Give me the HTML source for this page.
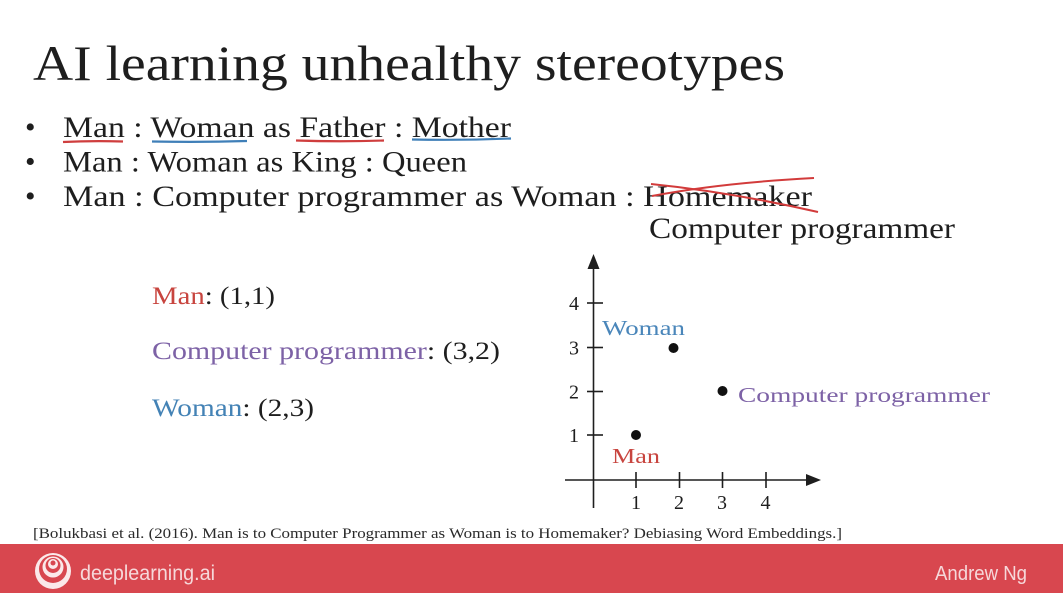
<!DOCTYPE html>
<html>
<head>
<meta charset="utf-8">
<style>
  html, body { margin: 0; padding: 0; background: #ffffff; }
  svg { display: block; }
  .serif { font-family: "Liberation Serif", "DejaVu Serif", serif; }
  .sans { font-family: "Liberation Sans", "DejaVu Sans", sans-serif; }
</style>
</head>
<body>
<svg width="1063" height="593" viewBox="0 0 1063 593" xmlns="http://www.w3.org/2000/svg">
  <rect x="0" y="0" width="1063" height="593" fill="#ffffff"/>

  <!-- Title -->
  <text class="serif" x="33" y="80" font-size="50" fill="#1e1e1e" textLength="752" lengthAdjust="spacingAndGlyphs">AI learning unhealthy stereotypes</text>

  <!-- Bullets -->
  <g class="serif" fill="#1e1e1e" font-size="30">
    <text x="25" y="137">•</text>
    <text x="25" y="171.5">•</text>
    <text x="25" y="206">•</text>
    <text x="63" y="137" textLength="448" lengthAdjust="spacingAndGlyphs">Man : Woman as Father : Mother</text>
    <text x="63" y="171.5" textLength="404" lengthAdjust="spacingAndGlyphs">Man : Woman as King : Queen</text>
    <text x="63" y="206" textLength="749" lengthAdjust="spacingAndGlyphs">Man : Computer programmer as Woman : Homemaker</text>
    <text x="649" y="238" textLength="306" lengthAdjust="spacingAndGlyphs">Computer programmer</text>
  </g>

  <!-- underlines -->
  <path d="M63 142 Q93 140.5 123 141.5" stroke="#cf3e3e" stroke-width="2.2" fill="none"/>
  <path d="M152 141.5 Q200 142.5 247 141" stroke="#3f7fb8" stroke-width="2.2" fill="none"/>
  <path d="M296 140.5 Q340 142 384 140.5" stroke="#cf3e3e" stroke-width="2.2" fill="none"/>
  <path d="M412 139.5 Q460 140.5 511 138.5" stroke="#3f7fb8" stroke-width="2.2" fill="none"/>

  <!-- strike-through on Homemaker -->
  <path d="M651 184 Q730 192 818 212" stroke="#d23b3b" stroke-width="2" fill="none"/>
  <path d="M652 196 Q720 183 814 178" stroke="#d23b3b" stroke-width="2" fill="none"/>

  <!-- Left column -->
  <g class="serif" font-size="25">
    <text x="152" y="304" textLength="123" lengthAdjust="spacingAndGlyphs"><tspan fill="#c8453f">Man</tspan><tspan fill="#1e1e1e">: (1,1)</tspan></text>
    <text x="152" y="359" textLength="348" lengthAdjust="spacingAndGlyphs"><tspan fill="#7d62a6">Computer programmer</tspan><tspan fill="#1e1e1e">: (3,2)</tspan></text>
    <text x="152" y="416" textLength="162" lengthAdjust="spacingAndGlyphs"><tspan fill="#4382b5">Woman</tspan><tspan fill="#1e1e1e">: (2,3)</tspan></text>
  </g>

  <!-- Chart axes -->
  <g stroke="#1e1e1e" stroke-width="1.6" fill="none">
    <line x1="593.5" y1="265" x2="593.5" y2="508"/>
    <line x1="565" y1="480" x2="810" y2="480"/>
    <!-- y ticks -->
    <line x1="587" y1="303" x2="603" y2="303"/>
    <line x1="587" y1="347.5" x2="603" y2="347.5"/>
    <line x1="587" y1="391.5" x2="603" y2="391.5"/>
    <line x1="587" y1="435" x2="603" y2="435"/>
    <!-- x ticks -->
    <line x1="636" y1="472" x2="636" y2="488"/>
    <line x1="679.5" y1="472" x2="679.5" y2="488"/>
    <line x1="722.5" y1="472" x2="722.5" y2="488"/>
    <line x1="766" y1="472" x2="766" y2="488"/>
  </g>
  <polygon points="593.5,254 587.5,269 599.5,269" fill="#1e1e1e"/>
  <polygon points="821,480 806,474 806,486" fill="#1e1e1e"/>

  <!-- tick labels -->
  <g class="serif" font-size="20" fill="#1e1e1e">
    <text x="569" y="310">4</text>
    <text x="569" y="354.5">3</text>
    <text x="569" y="398.5">2</text>
    <text x="569" y="442">1</text>
    <text x="631" y="509">1</text>
    <text x="674" y="509">2</text>
    <text x="717" y="509">3</text>
    <text x="760.5" y="509">4</text>
  </g>

  <!-- points -->
  <circle cx="636" cy="435" r="5" fill="#111"/>
  <circle cx="673.5" cy="348" r="5" fill="#111"/>
  <circle cx="722.5" cy="391" r="5" fill="#111"/>

  <!-- point labels -->
  <g class="serif" font-size="21">
    <text x="602" y="335" fill="#4a86ba" textLength="83" lengthAdjust="spacingAndGlyphs">Woman</text>
    <text x="738" y="402" fill="#7d62a6" textLength="252" lengthAdjust="spacingAndGlyphs">Computer programmer</text>
    <text x="612" y="463" fill="#c8453f" textLength="48" lengthAdjust="spacingAndGlyphs">Man</text>
  </g>

  <!-- citation -->
  <text class="serif" x="33" y="538" font-size="15" fill="#2a2a2a" textLength="809" lengthAdjust="spacingAndGlyphs">[Bolukbasi et al. (2016). Man is to Computer Programmer as Woman is to Homemaker? Debiasing Word Embeddings.]</text>

  <!-- footer -->
  <rect x="0" y="544" width="1063" height="49" fill="#d8474f"/>
  <g>
    <circle cx="53" cy="571" r="18" fill="#fbe9ea"/>
    <circle cx="53" cy="569" r="14" fill="#d8474f"/>
    <circle cx="53" cy="567" r="10.5" fill="#fbe9ea"/>
    <circle cx="53" cy="565.5" r="7.5" fill="#d8474f"/>
    <circle cx="53" cy="564" r="5" fill="#fbe9ea"/>
    <circle cx="53" cy="563" r="2.5" fill="#d8474f"/>
  </g>
  <text class="sans" x="80" y="580" font-size="21" fill="#f6d8da" textLength="135" lengthAdjust="spacingAndGlyphs">deeplearning.ai</text>
  <text class="sans" x="935" y="580" font-size="20" fill="#f6d8da" textLength="92" lengthAdjust="spacingAndGlyphs">Andrew Ng</text>
</svg>
</body>
</html>
